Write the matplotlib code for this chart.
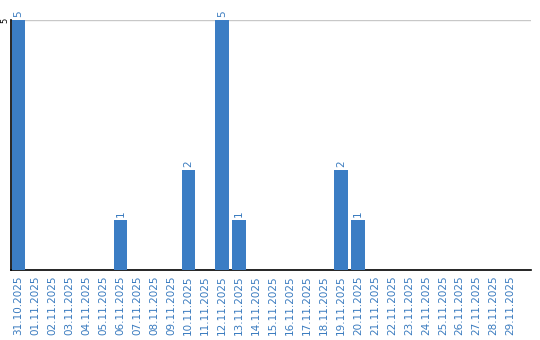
import matplotlib
matplotlib.use("Agg")
import matplotlib.pyplot as plt

dates = ["31.10.2025"] + [f"{d:02d}.11.2025" for d in range(1, 30)]
values = [5, 0, 0, 0, 0, 0, 1, 0, 0, 0, 2, 0, 5, 1, 0, 0, 0, 0, 0, 2, 1,
          0, 0, 0, 0, 0, 0, 0, 0, 0]
yticks = [5]

bar_color = "#3b7dc4"
text_color = "#3a7bbf"

fig = plt.figure(figsize=(5.4, 3.4), dpi=100)
ax = fig.add_axes([11/540, 1 - 270/340, 520/540, 250/340])
x = list(range(len(dates)))
ax.bar(x, values, width=0.8, color=bar_color, zorder=3)
for xi, v in zip(x, values):
    if v > 0:
        ax.text(xi, v + 0.05, str(v), rotation=90, ha="center", va="bottom",
                color=text_color, fontsize=7.5, clip_on=False)
ax.set_xlim(-0.45, 30.2)
ax.set_ylim(0, 5)
ax.set_xticks(x)
ax.set_xticklabels(dates, rotation=90, color=text_color, fontsize=7.5)
ax.set_yticks(yticks)
ax.set_yticklabels([str(t) for t in yticks], rotation=90, fontsize=6, va="center")
ax.tick_params(axis="x", length=0, pad=4)
ax.tick_params(axis="y", length=0, pad=1)
ax.grid(axis="y", color="#c8c8c8", linewidth=1, zorder=0)
ax.spines["top"].set_visible(False)
ax.spines["right"].set_visible(False)
ax.spines["left"].set_color("black")
ax.spines["bottom"].set_color("black")
ax.spines["left"].set_linewidth(1.2)
ax.spines["bottom"].set_linewidth(1.2)
fig.savefig("out.png", dpi=100)
